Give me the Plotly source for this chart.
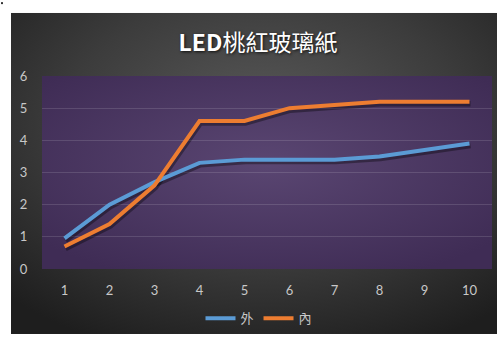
import base64
import plotly.graph_objects as go

# Series data
points = [1, 2, 3, 4, 5, 6, 7, 8, 9, 10]
outer_vals = [0.95, 2.0, 2.7, 3.3, 3.4, 3.4, 3.4, 3.5, 3.7, 3.9]   # 外
inner_vals = [0.7, 1.4, 2.6, 4.6, 4.6, 5.0, 5.1, 5.2, 5.2, 5.2]    # 內
y_ticks = [0, 1, 2, 3, 4, 5, 6]

W, H = 497, 338
ML, MR, MT, MB = 42, 5, 76, 66
PW, PH = W - ML - MR, H - MT - MB
X_RANGE = [0.5, 10.5]
Y_RANGE = [0, 6]

BLUE = "#5B9BD5"
ORANGE = "#ED7D31"
LABEL = "#C8C8C8"

# Background artwork: dark radial chart area with a purple plot panel
svg = f"""<svg xmlns='http://www.w3.org/2000/svg' width='{W}' height='{H}' viewBox='0 0 {W} {H}' preserveAspectRatio='none'>
<defs>
<radialGradient id='bg' cx='52%' cy='35%' r='75%'>
<stop offset='0' stop-color='#5a5a5a'/>
<stop offset='0.55' stop-color='#3c3c3c'/>
<stop offset='1' stop-color='#1e1e1e'/>
</radialGradient>
<radialGradient id='pa' cx='50%' cy='45%' r='65%'>
<stop offset='0' stop-color='#5a4672'/>
<stop offset='1' stop-color='#3f2c55'/>
</radialGradient>
</defs>
<rect x='0' y='0' width='{W}' height='{H}' fill='#ffffff'/>
<rect x='1' y='1' width='2' height='2' fill='#333333'/>
<rect x='11' y='12' width='{W - 11}' height='{H - 12}' fill='url(#bg)'/>
<rect x='{ML}' y='{MT}' width='{PW}' height='{PH}' fill='url(#pa)'/>
</svg>"""
svg_uri = "data:image/svg+xml;base64," + base64.b64encode(svg.encode()).decode()

fig = go.Figure()

# Empty trace so the main axis pair (ticks + grid) is built
fig.add_trace(go.Scatter(x=[], y=[], mode="lines", showlegend=False, hoverinfo="skip"))

# Soft drop shadows under the lines (drawn on a slightly shifted overlay axis pair)
dx_px, dy_px = 1.0, 2.0
ux = (X_RANGE[1] - X_RANGE[0]) / PW
uy = (Y_RANGE[1] - Y_RANGE[0]) / PH
for vals in (outer_vals, inner_vals):
    fig.add_trace(go.Scatter(
        x=points, y=vals, mode="lines", xaxis="x2", yaxis="y2",
        line=dict(color="rgba(0,0,0,0.35)", width=5.5),
        showlegend=False, hoverinfo="skip",
    ))

fig.add_trace(go.Scatter(
    x=points, y=outer_vals, mode="lines", name="外", xaxis="x3", yaxis="y3",
    line=dict(color=BLUE, width=4),
))
fig.add_trace(go.Scatter(
    x=points, y=inner_vals, mode="lines", name="內", xaxis="x3", yaxis="y3",
    line=dict(color=ORANGE, width=4),
))

tick_font = dict(family="Lato, 'Noto Sans', sans-serif", size=13, color=LABEL)

fig.update_layout(
    width=W, height=H,
    margin=dict(l=ML, r=MR, t=MT, b=MB),
    paper_bgcolor="#ffffff",
    plot_bgcolor="rgba(0,0,0,0)",
    images=[dict(
        source=svg_uri, xref="paper", yref="paper",
        x=-ML / PW, y=1 + MT / PH, sizex=W / PW, sizey=H / PH,
        xanchor="left", yanchor="top", sizing="stretch", layer="below",
    )],
    title=dict(
        text="<b>LED</b>桃紅玻璃紙",
        x=258 / W, xanchor="center", y=1 - 43 / H, yanchor="middle",
        font=dict(family="'Noto Sans CJK TC', sans-serif", size=23, color="#ffffff",
                  shadow="1px 1px 3px rgba(0,0,0,0.8)"),
    ),
    xaxis=dict(
        range=X_RANGE, tickvals=points, ticktext=[str(p) for p in points],
        showgrid=False, zeroline=False, showline=False,
        ticks="outside", ticklen=9, tickcolor="rgba(0,0,0,0)",
        tickfont=tick_font, fixedrange=True,
    ),
    yaxis=dict(
        range=Y_RANGE, tickvals=y_ticks,
        showgrid=True, gridcolor="rgba(255,255,255,0.13)", gridwidth=1,
        zeroline=False, showline=False,
        ticks="outside", ticklen=11, tickcolor="rgba(0,0,0,0)",
        tickfont=tick_font, fixedrange=True,
    ),
    xaxis2=dict(range=[X_RANGE[0] - dx_px * ux, X_RANGE[1] - dx_px * ux],
                overlaying="x", visible=False, fixedrange=True),
    yaxis2=dict(range=[Y_RANGE[0] + dy_px * uy, Y_RANGE[1] + dy_px * uy],
                overlaying="y", visible=False, fixedrange=True),
    xaxis3=dict(range=X_RANGE, overlaying="x", visible=False, fixedrange=True),
    yaxis3=dict(range=Y_RANGE, overlaying="y", visible=False, fixedrange=True),
    legend=dict(
        orientation="h", x=0.5 - 8 / PW, xanchor="center",
        y=-(322 - (H - MB)) / PH, yanchor="middle",
        font=dict(family="'Noto Sans CJK TC', sans-serif", size=13, color=LABEL),
        bgcolor="rgba(0,0,0,0)", itemwidth=30, tracegroupgap=0,
    ),
    showlegend=True,
)

fig.write_html("out.html")
